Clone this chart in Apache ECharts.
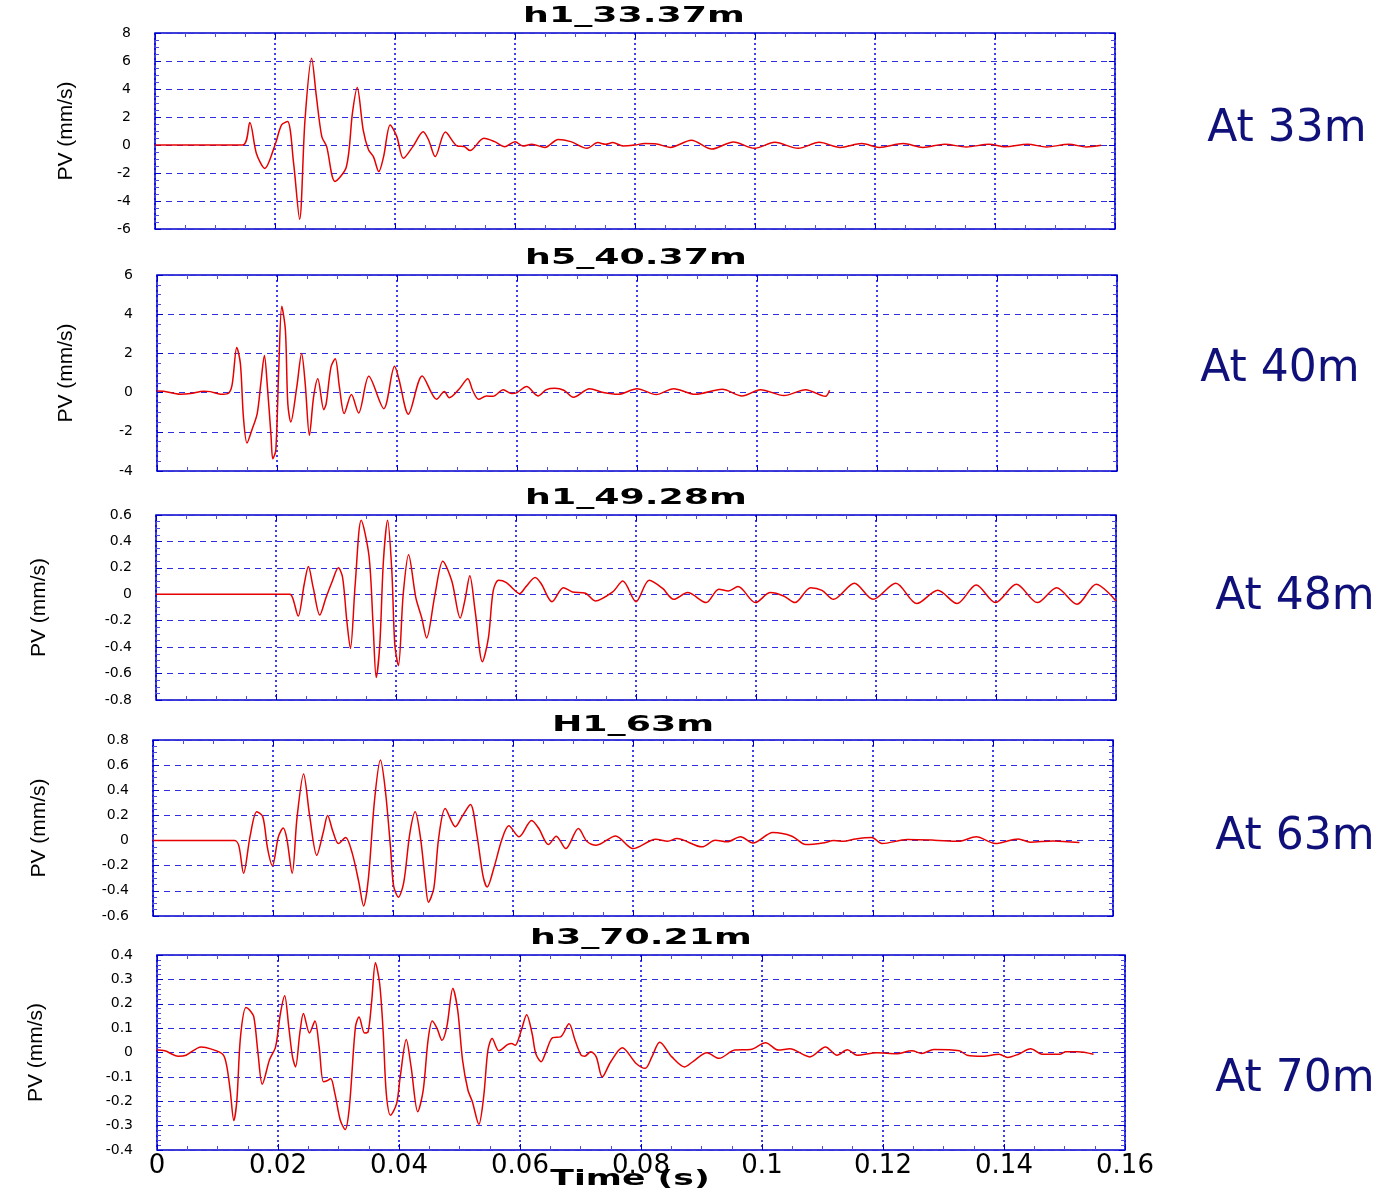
<!DOCTYPE html>
<html lang="en">

<head>
    <meta charset="UTF-8">
    <title>PV traces</title>
    <script src="https://cdn.jsdelivr.net/npm/echarts@6/dist/echarts.min.js"></script>
    <style>
        body { margin: 0; background: #fff; }
        #echart { width: 1391px; height: 1190px; }
    </style>
</head>

<body>
    <div id="echart"></div>

    <script>
        // panel titles / depth captions
        const panelTitles = ['h1_33.37m', 'h5_40.37m', 'h1_49.28m', 'H1_63m', 'h3_70.21m'];
        const depthLabels = ['At 33m', 'At 40m', 'At 48m', 'At 63m', 'At 70m'];

        // y axis ranges
        const yMin = [-6, -4, -0.8, -0.6, -0.4];
        const yMax = [8, 6, 0.6, 0.8, 0.4];
        const yStep = [2, 2, 0.2, 0.2, 0.1];
        const yMinorSplit = [4, 4, 4, 4, 5];

        // time axis (s)
        const tMin = 0, tMax = 0.16, tStep = 0.02;

        // traces: [time (ms), PV (mm/s)]
        const trace1 = [[0, 0], [14.6, 0], [15.8, 1.6], [16.9, -0.6], [18.3, -1.67], [20, 0], [21.1, 1.43], [22.1, 1.67], [23.1, -1.3], [24.1, -5.3], [25, 1.8], [26.1, 6.2], [26.9, 3.45], [27.8, 0.6], [28.6, -0.1], [30, -2.6], [31.9, -1.55], [32.9, 2.26], [33.7, 4.1], [34.7, 1.07], [35.6, -0.36], [36.4, -0.83], [37.3, -1.9], [38.1, -0.83], [39.2, 1.43], [40.3, 0.6], [41.4, -0.95], [43, -0.1], [44.7, 0.95], [45.6, 0.36], [46.7, -0.83], [48.4, 0.92], [50.4, -0.07], [51.5, -0.1], [52.5, -0.4], [54.8, 0.48], [56.6, 0.24], [58.3, -0.12], [60, 0.24], [61.3, -0.07], [62.8, 0.05], [65, -0.17], [67.2, 0.4], [69.3, 0.24], [72, -0.24], [73.8, 0.17], [75.1, 0.05], [76.3, 0.17], [78, -0.07], [80, 0], [81.6, 0.1], [83.6, 0.07], [85.9, -0.17], [89.4, 0.34], [92.8, -0.29], [96.4, 0.22], [99.9, -0.24], [103.3, 0.19], [107.2, -0.24], [110.7, 0.19], [114.2, -0.17], [117.8, 0.1], [120.7, -0.17], [124.7, 0.1], [128, -0.17], [131.6, 0.05], [135.2, -0.14], [139, 0.05], [141.7, -0.12], [145.4, 0.05], [148.6, -0.14], [152.3, 0.05], [155.2, -0.14], [157.7, -0.02]];

        const trace2 = [[0, 0.085], [1.1, 0.07], [3.9, -0.085], [5.6, -0.05], [7.8, 0.07], [8.9, 0.05], [10.6, -0.085], [11.8, -0.05], [12.5, 0.37], [13.3, 2.3], [13.9, 1.48], [14.4, -1.24], [15, -2.57], [15.8, -1.92], [16.7, -1.07], [17.3, 0.46], [17.9, 1.89], [18.4, 0.29], [19, -2.18], [19.3, -3.37], [19.8, -2.94], [20.3, 1.31], [20.8, 4.4], [21.4, 3.18], [21.8, -0.56], [22.3, -1.5], [23.3, 0.29], [24.1, 1.99], [24.7, 0.46], [25.4, -2.18], [26.1, -0.22], [26.8, 0.71], [27.8, -0.87], [28.2, -0.56], [29, 1.31], [29.7, 1.73], [30.4, 0.29], [31.2, -1.07], [32.4, -0.1], [33.6, -1.04], [35.3, 0.83], [37.8, -0.82], [39.6, 1.34], [40.3, 0.71], [41.9, -1.1], [44.2, 0.85], [46.6, -0.34], [47.9, 0.05], [48.7, -0.26], [50.4, 0.2], [51.8, 0.71], [52.6, 0.12], [53.6, -0.34], [54.9, -0.17], [56, -0.19], [57.7, 0.15], [59.1, -0.05], [60, 0], [61.6, 0.31], [63.5, -0.17], [64.9, 0.15], [66.3, 0.22], [67.8, 0.12], [69.4, -0.24], [72.1, 0.2], [74.4, 0], [76.9, -0.09], [80, 0.2], [83.2, -0.1], [86.1, 0.2], [89.7, -0.09], [94.2, 0.17], [97.5, -0.17], [100.6, 0.15], [104.5, -0.15], [108.1, 0.15], [111.4, -0.19], [112.1, 0.12]];

        const trace3 = [[0, 0], [22.3, 0], [22.8, -0.03], [23.7, -0.165], [24.7, 0.076], [25.4, 0.21], [26.2, 0.05], [27.3, -0.157], [28.3, -0.03], [29.3, 0.089], [30.4, 0.2], [31.1, 0.127], [31.8, -0.2], [32.4, -0.41], [33.2, 0.076], [34.2, 0.56], [35.5, 0.29], [36.2, -0.25], [36.7, -0.63], [37.3, -0.38], [37.9, 0.25], [38.6, 0.56], [39.3, 0.18], [39.8, -0.38], [40.4, -0.54], [41.2, 0], [42.1, 0.3], [43.3, -0.025], [44.3, -0.18], [45.1, -0.33], [46.5, 0], [47.8, 0.25], [49.3, 0.1], [50.7, -0.18], [51.5, -0.04], [52.3, 0.14], [53.2, -0.13], [54.4, -0.51], [55.4, -0.33], [56.2, 0.025], [57.1, 0.106], [58.4, 0.089], [59.6, 0.038], [60.6, 0.005], [61.7, 0.06], [63.2, 0.127], [64.2, 0.08], [66, -0.056], [67.9, 0.05], [69.4, 0.018], [71.6, 0.008], [73.2, -0.05], [76.1, 0.018], [77.8, 0.1], [80, -0.056], [82.2, 0.106], [84.4, 0.046], [86.3, -0.038], [88.6, 0.013], [91.7, -0.063], [93.8, 0.038], [95.4, 0.025], [97, 0.058], [99.9, -0.063], [102.4, 0.013], [104.6, -0.013], [106.5, -0.063], [109.1, 0.05], [111, 0.03], [112.9, -0.038], [116.4, 0.084], [119.5, -0.038], [123.3, 0.084], [126.8, -0.07], [130.3, 0.03], [133.5, -0.07], [136.7, 0.07], [139.9, -0.063], [143.4, 0.076], [146.9, -0.063], [150.1, 0.05], [153.5, -0.076], [156.7, 0.076], [160, -0.05]];

        const trace4 = [[0, 0], [13.6, 0], [14.3, -0.04], [15.1, -0.26], [16.2, 0.04], [17.3, 0.23], [18.3, 0.19], [19.1, -0.064], [19.9, -0.2], [20.9, 0.03], [21.7, 0.1], [22.3, 0.016], [23.2, -0.26], [24, 0.18], [25.1, 0.53], [26.1, 0.2], [27.3, -0.117], [28.4, 0.07], [29.1, 0.2], [30, 0.07], [30.9, -0.024], [32.1, 0.024], [33.2, -0.1], [34.3, -0.33], [35.1, -0.52], [35.9, -0.3], [36.9, 0.31], [37.9, 0.64], [38.7, 0.41], [39.6, -0.064], [40.1, -0.36], [40.9, -0.45], [41.8, -0.33], [42.8, 0.056], [43.7, 0.23], [44.6, 0.016], [45.4, -0.33], [45.9, -0.49], [46.8, -0.38], [47.6, 0.016], [48.7, 0.255], [50.4, 0.11], [51.5, 0.19], [52.9, 0.287], [54, 0.04], [55, -0.28], [55.7, -0.37], [56.8, -0.22], [58.2, 0.016], [59.3, 0.117], [61, 0.03], [63.1, 0.16], [64.3, 0.096], [65.9, -0.032], [67.2, 0.035], [68.8, -0.064], [70.9, 0.096], [72.3, -0.005], [73.9, -0.037], [77.1, 0.037], [80, -0.064], [83.8, 0.01], [85.8, -0.005], [87.3, 0.016], [91.5, -0.05], [93.7, 0.003], [95.7, -0.01], [97.9, 0.03], [100, -0.02], [103.3, 0.064], [106.5, 0.035], [108.8, -0.032], [111.6, -0.02], [113.5, 0], [115.1, -0.005], [117.1, 0.013], [119.8, 0.024], [121.5, -0.024], [125.7, 0.008], [130.2, 0.003], [134.3, -0.005], [137.2, 0.03], [140.4, -0.024], [144.2, 0.013], [146.2, -0.013], [150, -0.003], [154.4, -0.016]];

        const trace5 = [[0, 0.01], [1.3, 0.007], [3.5, -0.015], [4.8, -0.011], [7.3, 0.023], [9, 0.014], [10.9, -0.008], [11.5, -0.052], [12.1, -0.155], [12.7, -0.28], [13.2, -0.196], [13.8, 0.064], [14.7, 0.185], [15.3, 0.174], [16, 0.146], [16.7, -0.004], [17.4, -0.13], [18.6, -0.03], [19.6, 0.023], [20.4, 0.16], [21.1, 0.233], [21.8, 0.1], [22.4, -0.018], [22.9, -0.059], [23.6, 0.078], [24.2, 0.16], [25.2, 0.08], [26.1, 0.129], [26.8, 0.023], [27.5, -0.12], [28.1, -0.116], [28.7, -0.107], [29.4, -0.168], [30.3, -0.278], [31.1, -0.316], [31.8, -0.223], [32.8, 0.105], [33.4, 0.146], [34.3, 0.08], [34.9, 0.085], [35.5, 0.215], [36.1, 0.368], [36.8, 0.283], [37.4, 0.078], [37.9, -0.168], [38.6, -0.257], [39.6, -0.21], [40.2, -0.1], [41.2, 0.053], [42, -0.059], [43.1, -0.243], [44, -0.155], [44.8, 0.05], [45.5, 0.129], [46.3, 0.098], [47.1, 0.05], [47.9, 0.105], [48.9, 0.263], [49.7, 0.174], [50.5, -0.03], [51.4, -0.155], [52.1, -0.2], [53.2, -0.294], [54, -0.18], [54.7, 0.01], [55.4, 0.057], [56.5, 0.007], [58, 0.033], [58.6, 0.037], [59.2, 0.03], [60.2, 0.09], [61.1, 0.155], [62, 0.078], [62.6, -0.004], [63.5, -0.038], [64.2, -0.004], [65.4, 0.061], [66.7, 0.064], [68.1, 0.118], [69.1, 0.05], [70.1, -0.011], [70.7, -0.015], [71.7, 0.003], [72.6, -0.018], [73.6, -0.1], [75, -0.038], [76.9, 0.02], [79.2, -0.045], [80.7, -0.065], [81.8, -0.018], [83.1, 0.042], [85.1, -0.018], [87.2, -0.059], [88.7, -0.035], [90.9, -0.001], [92.9, -0.024], [95.5, 0.01], [98.1, 0.012], [100.6, 0.04], [102.7, 0.01], [104.6, 0.015], [107.9, -0.018], [110.5, 0.023], [112.4, -0.011], [114.1, 0.011], [115.7, -0.011], [119, -0.001], [122.2, -0.005], [124.8, 0.007], [126.4, -0.004], [128.4, 0.012], [132.6, 0.007], [133.9, -0.011], [136.5, -0.015], [139.2, -0.007], [140.6, -0.02], [142.4, -0.007], [144.4, 0.015], [146.3, -0.007], [149.3, -0.007], [150.2, 0.003], [152.2, 0.003], [154.8, -0.007]];

        const traces = [trace1, trace2, trace3, trace4, trace5];

        // layout of the five boxes (px)
        const boxes = [
            { left: 155, top: 33, width: 960, height: 196, nameGap: 78, titleX: 634, titleY: 16, capX: 1287, capY: 130 },
            { left: 157, top: 275, width: 960, height: 196, nameGap: 80, titleX: 636, titleY: 258, capX: 1280, capY: 370 },
            { left: 156, top: 515, width: 960, height: 185, nameGap: 106, titleX: 636, titleY: 498, capX: 1295, capY: 598 },
            { left: 153, top: 740, width: 960, height: 176, nameGap: 103, titleX: 633, titleY: 725, capX: 1295, capY: 838 },
            { left: 157, top: 955, width: 968, height: 195, nameGap: 110, titleX: 641, titleY: 938, capX: 1295, capY: 1080 }
        ];

        const blue = '#0000cc';
        const fmt = v => String(Math.round(v * 1000) / 1000);

        const grid = [], xAxis = [], yAxis = [], series = [], graphic = [];

        boxes.forEach((b, i) => {
            grid.push({
                left: b.left, top: b.top, width: b.width, height: b.height,
                show: true, borderColor: blue, borderWidth: 1.5, backgroundColor: '#fff'
            });

            const tickStyle = { inside: true, length: 6, lineStyle: { color: blue, width: 1 } };
            const minorStyle = { show: true, length: 4, lineStyle: { color: '#4d4de0', width: 1 } };
            const noLine = { show: false, onZero: false };

            // bottom + top time axes
            xAxis.push({
                type: 'value', gridIndex: i, position: 'bottom', min: tMin, max: tMax, interval: tStep,
                axisLine: noLine,
                axisTick: tickStyle,
                minorTick: Object.assign({ splitNumber: 4 }, minorStyle),
                axisLabel: {
                    show: i === 4, formatter: fmt, margin: 3,
                    fontFamily: 'DejaVu Sans', fontSize: 26, color: '#000'
                },
                splitLine: { show: true, lineStyle: { color: '#0000e6', type: [2, 3], width: 1.5 } }
            });
            xAxis.push({
                type: 'value', gridIndex: i, position: 'top', min: tMin, max: tMax, interval: tStep,
                axisLine: noLine,
                axisTick: tickStyle,
                minorTick: Object.assign({ splitNumber: 4 }, minorStyle),
                axisLabel: { show: false },
                splitLine: { show: false }
            });

            // left + right PV axes
            yAxis.push({
                type: 'value', gridIndex: i, position: 'left', min: yMin[i], max: yMax[i], interval: yStep[i],
                name: 'PV (mm/s)', nameLocation: 'middle', nameGap: b.nameGap,
                nameTextStyle: { fontFamily: 'Liberation Sans', fontSize: 21, color: '#000' },
                axisLine: noLine,
                axisTick: tickStyle,
                minorTick: Object.assign({ splitNumber: yMinorSplit[i] }, minorStyle),
                axisLabel: { formatter: fmt, margin: 24, fontFamily: 'DejaVu Sans', fontSize: 14, color: '#000' },
                splitLine: { show: true, lineStyle: { color: '#2f2fe0', type: [6, 5], width: 1.2 } }
            });
            yAxis.push({
                type: 'value', gridIndex: i, position: 'right', min: yMin[i], max: yMax[i], interval: yStep[i],
                axisLine: noLine,
                axisTick: tickStyle,
                minorTick: Object.assign({ splitNumber: yMinorSplit[i] }, minorStyle),
                axisLabel: { show: false },
                splitLine: { show: false }
            });

            series.push({
                type: 'line',
                xAxisIndex: 2 * i, yAxisIndex: 2 * i,
                data: traces[i].map(p => [p[0] / 1000, p[1]]),
                showSymbol: false, smooth: 0.3,
                lineStyle: { color: '#e60000', width: 1.5 },
                clip: true, z: 5
            });

            graphic.push({
                type: 'text', x: b.titleX, y: b.titleY, scaleX: 1.65,
                style: {
                    text: panelTitles[i], x: 0, y: 0, textAlign: 'center', textVerticalAlign: 'middle',
                    font: 'bold 22px "DejaVu Sans"', fill: '#000'
                }
            });
            graphic.push({
                type: 'text', x: b.capX, y: b.capY,
                style: {
                    text: depthLabels[i], x: 0, y: 0, textAlign: 'center', textVerticalAlign: 'middle',
                    font: '44px "DejaVu Sans"', fill: '#10107a'
                }
            });
        });

        graphic.push({
            type: 'text', x: 630, y: 1180, scaleX: 1.65,
            style: {
                text: 'Time (s)', x: 0, y: 0, textAlign: 'center', textVerticalAlign: 'middle',
                font: 'bold 21px "DejaVu Sans"', fill: '#000'
            }
        });

        const myChart = echarts.init(document.querySelector('#echart'));
        myChart.setOption({
            backgroundColor: '#fff',
            animation: false,
            grid, xAxis, yAxis, series, graphic
        });
    </script>
</body>

</html>
